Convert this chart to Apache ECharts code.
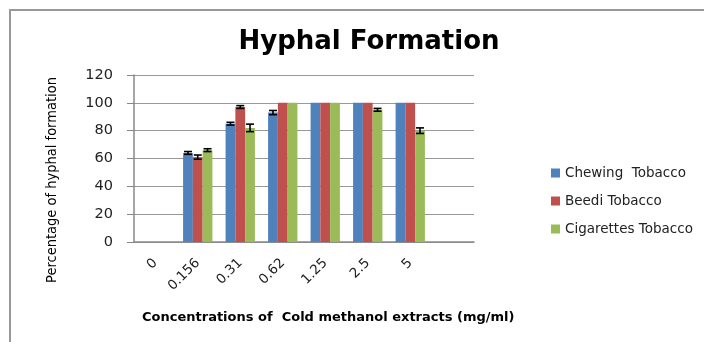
<!DOCTYPE html>
<html><head><meta charset="utf-8">
<script src="https://cdn.jsdelivr.net/npm/echarts@6/dist/echarts.min.js"></script>
<style>html,body{margin:0;padding:0;background:#fff}#c{width:704px;height:342px}</style>
</head><body><div id="c"></div>
<script>
const categories = ["0","0.156","0.31","0.62","1.25","2.5","5",""];
const seriesNames = ["Chewing  Tobacco","Beedi Tobacco","Cigarettes Tobacco"];
const chewing = [0, 64, 85, 93, 100, 100, 100, null];
const beedi = [0, 61, 97, 100, 100, 100, 100, null];
const cigarettes = [0, 66, 82, 100, 100, 95, 80, null];
const chewingErr = [0, 1, 1, 1.5, 0, 0, 0, null];
const beediErr = [0, 1.5, 1, 0, 0, 0, 0, null];
const cigarettesErr = [0, 1, 2.7, 0, 0, 1, 2, null];
const yTicks = [0, 20, 40, 60, 80, 100, 120];
const colors = ["#4F81BD","#C0504D","#9BBB59"];

const values = [chewing, beedi, cigarettes];
const errs = [chewingErr, beediErr, cigarettesErr];
const gapFrac = 0.31;

const series = [];
values.forEach((v, i) => {
  series.push({
    name: seriesNames[i], type: 'bar', data: v, barGap: '0%', barCategoryGap: '31%',
    itemStyle: {color: colors[i]}
  });
});
values.forEach((v, i) => {
  const d = [];
  v.forEach((val, k) => { if (val !== null && errs[i][k] > 0) d.push([k, val, errs[i][k]]); });
  series.push({
    type: 'custom', name: seriesNames[i] + ' err', z: 10, silent: true,
    data: d,
    renderItem: function (params, api) {
      const k = api.value(0), val = api.value(1), e = api.value(2);
      const band = api.size([1, 0])[0];
      const groupW = band * (1 - gapFrac);
      const barW = groupW / 3;
      const c = api.coord([k, val]);
      const x = c[0] - groupW / 2 + barW * (i + 0.5);
      const top = api.coord([k, val + e])[1];
      const bot = api.coord([k, val - e])[1];
      const hw = 4;
      const st = {stroke: '#000', lineWidth: 1.6};
      return {type: 'group', children: [
        {type: 'line', shape: {x1: x, y1: top, x2: x, y2: bot}, style: st},
        {type: 'line', shape: {x1: x - hw, y1: top, x2: x + hw, y2: top}, style: st},
        {type: 'line', shape: {x1: x - hw, y1: bot, x2: x + hw, y2: bot}, style: st}
      ]};
    }
  });
});

const chart = echarts.init(document.getElementById('c'), null, {renderer: 'canvas'});
chart.setOption({
  animation: false,
  backgroundColor: '#fff',
  title: {
    text: 'Hyphal Formation', left: 364, top: 24, textAlign: 'center',
    textStyle: {fontFamily: 'DejaVu Sans', fontWeight: 'bold', fontSize: 26, color: '#000'}
  },
  graphic: [{
    type: 'rect', shape: {x: 10, y: 10, width: 720, height: 360},
    style: {fill: 'none', stroke: '#999', lineWidth: 2}, silent: true
  }, {
    type: 'text', left: 142, top: 311, silent: true,
    style: {text: 'Concentrations of  Cold methanol extracts (mg/ml)', fontFamily: 'DejaVu Sans',
      fontWeight: 'bold', fontSize: 13, fill: '#000'}
  }, {
    type: 'text', x: 52, y: 180, rotation: Math.PI / 2, silent: true,
    style: {text: 'Percentage of hyphal formation', fontFamily: 'DejaVu Sans Condensed',
      fontSize: 14.5, fill: '#000', align: 'center', verticalAlign: 'middle'}
  }],
  legend: {
    orient: 'vertical', left: 546, top: 161, itemGap: 14, itemWidth: 9, itemHeight: 9,
    icon: 'rect', data: seriesNames,
    textStyle: {fontFamily: 'DejaVu Sans', fontSize: 13.5, color: '#222'}
  },
  grid: {left: 134, right: 230, top: 75, bottom: 100},
  xAxis: {
    type: 'category', data: categories,
    axisLine: {lineStyle: {color: '#888', width: 1.5}},
    axisTick: {show: false},
    axisLabel: {rotate: 45, interval: 0, margin: 19, fontFamily: 'DejaVu Sans', fontSize: 13.5, color: '#222'}
  },
  yAxis: {
    type: 'value', min: 0, max: 120, interval: 20,
    axisLine: {show: true, lineStyle: {color: '#888', width: 1.5}},
    axisTick: {show: true, length: 7, lineStyle: {color: '#888'}},
    splitLine: {lineStyle: {color: '#999', width: 1.2}},
    axisLabel: {margin: 21, fontFamily: 'DejaVu Sans', fontSize: 14.5, color: '#222',
      formatter: v => yTicks.includes(v) ? String(v) : ''}
  },
  series: series
});
</script></body></html>
